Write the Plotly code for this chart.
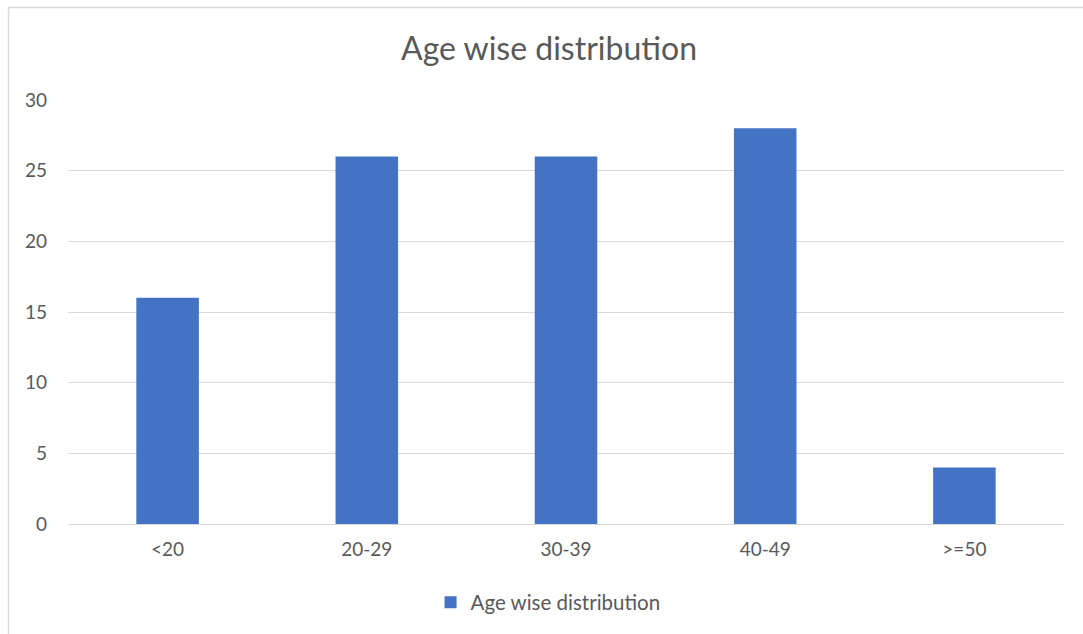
import plotly.graph_objects as go

categories = ["<20", "20-29", "30-39", "40-49", ">=50"]
values = [16, 26, 26, 28, 4]
series_name = "Age wise distribution"
y_ticks = [0, 5, 10, 15, 20, 25, 30]

FONT = "Lato, Calibri, Carlito, sans-serif"
TXT = "#595959"

fig = go.Figure()
fig.add_trace(go.Bar(
    x=categories, y=values, name=series_name,
    marker=dict(color="#4472C4", line=dict(width=0)),
    showlegend=True,
))

fig.update_layout(
    width=1083, height=634,
    margin=dict(l=68, r=19, t=100, b=110),
    paper_bgcolor="white", plot_bgcolor="white",
    font=dict(family=FONT, size=19, color=TXT),
    title=dict(text="Age wise distribution", x=(549 - 68) / 996, xref="paper", xanchor="center",
               y=1 - 49 / 634, yref="container", yanchor="middle",
               font=dict(family=FONT, size=32, color=TXT)),
    bargap=0.686,
    showlegend=True,
    legend=dict(orientation="h", x=0.482, xanchor="center", y=-0.185, yanchor="middle",
                font=dict(family=FONT, size=20.5, color=TXT), itemwidth=30),
    xaxis=dict(showgrid=False, showline=False, zeroline=False, ticks="",
               ticklabelstandoff=12, tickfont=dict(size=19, color=TXT)),
    yaxis=dict(range=[0, 30], tickvals=y_ticks, showgrid=True, gridcolor="#D9D9D9",
               gridwidth=1, zeroline=True, zerolinecolor="#D9D9D9", zerolinewidth=1,
               showline=False, ticks="", ticklabelstandoff=20,
               tickfont=dict(size=19, color=TXT)),
    shapes=[dict(type="rect", xref="paper", yref="paper",
                 x0=(8.5 - 68) / 996, x1=1.2, y0=-0.6, y1=(524 - 7.5) / 424,
                 line=dict(color="#D9D9D9", width=1.5), fillcolor="rgba(0,0,0,0)",
                 layer="below")],
)

fig.write_html("out.html")
